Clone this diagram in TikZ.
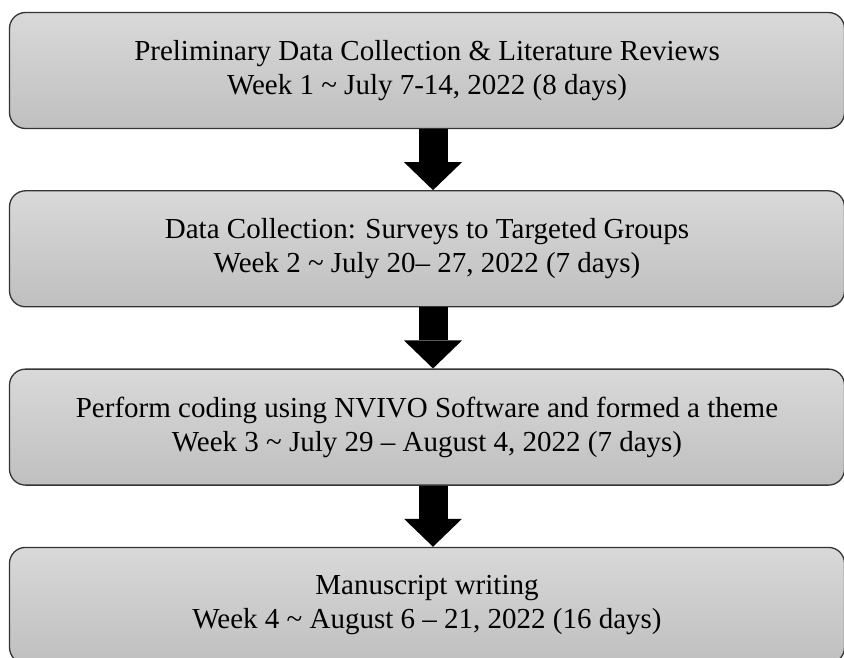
\documentclass[tikz,border=0pt]{standalone}
\usepackage{fontspec}
\setmainfont{Liberation Serif}
\usetikzlibrary{positioning,arrows.meta}

\begin{document}
\begin{tikzpicture}[
                x=1pt, y=1pt,
                node distance=61pt,
                phasebox/.style={draw=black!80, line width=1.3pt, rounded corners=16pt,
                                 top color=gray!30, bottom color=gray!50,
                                 minimum width=835pt, minimum height=116pt,
                                 align=center, font=\fontsize{29}{34}\selectfont,
                                 inner sep=0pt},
                blockarrow/.style={line width=29pt,
                                   -{Triangle[width=58pt, length=28pt, line width=0pt]}}
            ]
                \useasboundingbox (0,0) rectangle (844,-657);
                \node[phasebox] (p1) at (427,-70.5) {Preliminary Data Collection \& Literature Reviews\\Week 1 \textasciitilde{} July 7-14, 2022 (8 days)};
                \node[phasebox, below=of p1] (p2) {Data Collection: Surveys to Targeted Groups\\Week 2 \textasciitilde{} July 20– 27, 2022 (7 days)};
                \node[phasebox, below=of p2] (p3) {Perform coding using NVIVO Software and formed a theme\\Week 3 \textasciitilde{} July 29 – August 4, 2022 (7 days)};
                \node[phasebox, below=of p3] (p4) {Manuscript writing\\Week 4 \textasciitilde{} August 6 – 21, 2022 (16 days)};
                \draw[blockarrow] ([xshift=6pt]p1.south) -- ([xshift=6pt]p2.north);
                \draw[blockarrow] ([xshift=6pt]p2.south) -- ([xshift=6pt]p3.north);
                \draw[blockarrow] ([xshift=6pt]p3.south) -- ([xshift=6pt]p4.north);
            \end{tikzpicture}
\end{document}
